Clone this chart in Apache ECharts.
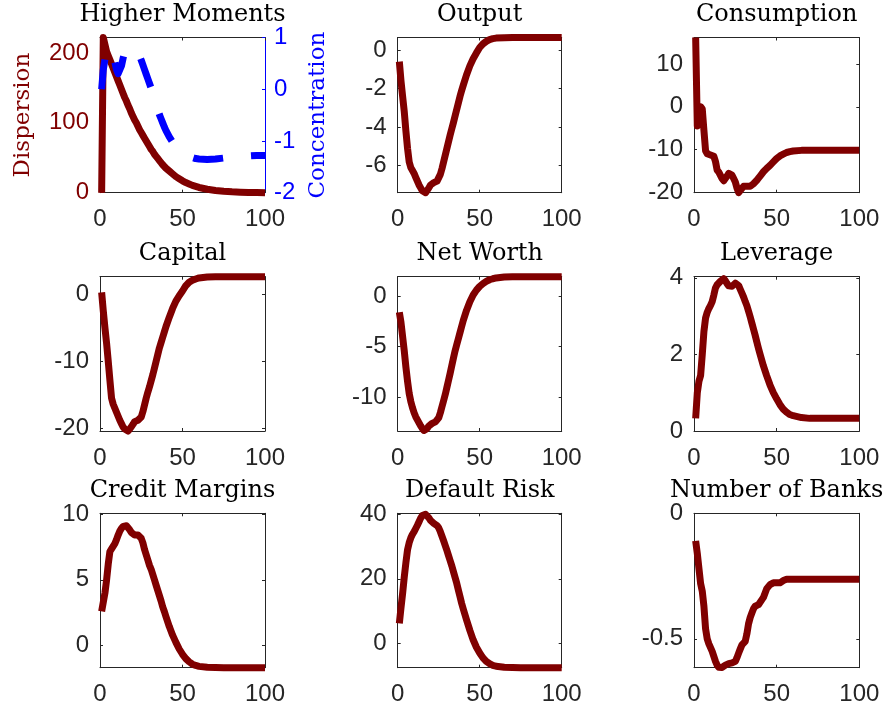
<!DOCTYPE html>
<html>
<head>
<meta charset="utf-8">
<script src="https://cdn.jsdelivr.net/npm/echarts@6/dist/echarts.min.js"></script>
<style>
  html, body { margin: 0; padding: 0; background: #ffffff; }
  #chart { width: 884px; height: 712px; }
</style>
</head>
<body>
<div id="chart"></div>
<script>
// Impulse responses, quarters after the shock
const periods = [1,2,3,4,5,6,7,8,9,10,11,12,13,14,15,16,17,18,19,20,
  21,22,23,24,25,26,27,28,29,30,31,32,33,34,35,36,37,38,39,40,
  42,44,46,48,50,52,54,56,58,60,65,70,75,80,85,90,95,100];

const dispersion = [0,222,212,202,196,190,184,178,172,166,160,154,148,142,136,131,125,120,114,109,
  104,100,95,90,86,82,78,74,70,66,62,59,55,52,49,46,43,40,38,35,
  31,27,23,20,17,14.5,12.5,10.5,9,7.5,5,3.2,2,1.2,0.7,0.4,0.2,0.1];

const concentration = [0,0.38,0.58,0.7,0.77,0.8,0.78,0.68,0.52,0.38,0.3,0.32,0.45,0.6,0.72,0.78,0.8,0.8,0.8,0.79,
  0.77,0.74,0.7,0.64,0.56,0.47,0.38,0.29,0.2,0.11,0.02,-0.08,-0.18,-0.3,-0.4,-0.49,-0.57,-0.65,-0.73,-0.8,
  -0.92,-1.02,-1.1,-1.17,-1.22,-1.26,-1.29,-1.32,-1.34,-1.35,-1.36,-1.35,-1.33,-1.31,-1.3,-1.29,-1.28,-1.28];

const output = [-0.6,-1.6,-2.4,-3.2,-4.2,-5.1,-5.8,-6.1,-6.25,-6.4,-6.6,-6.8,-7.0,-7.15,-7.3,-7.38,-7.4,-7.3,-7.15,-7.0,
  -6.92,-6.88,-6.85,-6.8,-6.7,-6.45,-6.15,-5.8,-5.45,-5.1,-4.75,-4.4,-4.08,-3.76,-3.42,-3.08,-2.74,-2.4,-2.1,-1.82,
  -1.28,-0.82,-0.45,-0.15,0.13,0.32,0.45,0.54,0.59,0.62,0.64,0.65,0.65,0.65,0.65,0.65,0.65,0.65];

const consumption = [16.2,-4.5,-3.5,0,-0.5,-5.5,-10.3,-11,-11.4,-11.3,-11.1,-11.6,-12.8,-14.8,-15.3,-15.7,-16.8,-17.3,-16.9,-16.2,
  -15.6,-15.5,-16,-16.8,-17.6,-19,-20.1,-19.9,-19.1,-18.6,-18.4,-18.6,-18.75,-18.6,-18.4,-18.0,-17.6,-17.2,-16.7,-16.2,
  -15.2,-14.4,-13.7,-12.9,-12.1,-11.5,-11.1,-10.7,-10.5,-10.35,-10.2,-10.2,-10.2,-10.2,-10.2,-10.2,-10.2,-10.2];

const capital = [0.3,-2.5,-5,-7.3,-10,-12.8,-15.5,-16.4,-17,-17.6,-18.2,-18.8,-19.3,-19.8,-20.1,-20.3,-20.4,-20.1,-19.75,-19.4,
  -19.0,-18.9,-18.8,-18.75,-18.3,-17.5,-16.5,-15.5,-14.6,-13.8,-12.9,-12,-11,-10,-9,-8,-7.2,-6.4,-5.6,-4.8,
  -3.4,-2.1,-1.0,-0.2,0.5,1.3,1.8,2.1,2.3,2.45,2.58,2.62,2.64,2.64,2.64,2.64,2.64,2.64];

const netWorth = [-1.6,-2.6,-4.0,-5.4,-7.0,-8.4,-9.6,-10.4,-11.0,-11.5,-11.9,-12.2,-12.5,-12.8,-13.05,-13.25,-13.3,-13.05,-12.8,-12.65,
  -12.55,-12.5,-12.4,-12.3,-12.0,-11.5,-10.9,-10.3,-9.7,-9.0,-8.3,-7.6,-6.85,-6.1,-5.4,-4.8,-4.2,-3.6,-3.0,-2.4,
  -1.4,-0.56,0.1,0.58,0.95,1.22,1.44,1.6,1.7,1.78,1.86,1.89,1.9,1.9,1.9,1.9,1.9,1.9];

const leverage = [0.33,1.0,1.3,1.45,2.0,2.6,2.95,3.1,3.2,3.28,3.38,3.55,3.74,3.82,3.87,3.91,3.95,3.98,3.92,3.85,
  3.79,3.78,3.78,3.82,3.86,3.87,3.8,3.7,3.6,3.5,3.38,3.27,3.13,2.98,2.82,2.66,2.5,2.33,2.16,2.0,
  1.7,1.44,1.2,1.0,0.84,0.69,0.57,0.49,0.43,0.4,0.35,0.33,0.33,0.33,0.33,0.33,0.33,0.33];

const creditMargins = [2.6,3.3,4.0,5.0,6.2,7.15,7.35,7.5,7.75,8.05,8.4,8.7,8.9,9.06,9.1,9.1,9.0,8.8,8.6,8.45,
  8.4,8.4,8.4,8.3,8.15,7.8,7.3,6.9,6.5,6.1,5.8,5.4,5.0,4.6,4.2,3.8,3.4,2.95,2.6,2.2,
  1.45,0.8,0.25,-0.25,-0.65,-0.98,-1.22,-1.4,-1.5,-1.57,-1.64,-1.66,-1.67,-1.67,-1.67,-1.67,-1.67,-1.67];

const defaultRisk = [6.2,11,15.5,20.5,25,29,31.2,32.7,33.8,34.6,35.6,36.6,37.7,38.8,39.6,40,40,39.6,38.9,38.1,
  37.6,37.2,36.9,36.5,35.8,34.6,33.2,31.8,30.3,28.8,27.2,25.6,24,22.2,20.4,18.6,16.5,14.5,12.4,10.6,
  7.2,4.0,1.1,-1.2,-3.0,-4.5,-5.6,-6.3,-6.8,-7.1,-7.4,-7.5,-7.55,-7.55,-7.55,-7.55,-7.55,-7.55];

const numberOfBanks = [-0.11,-0.16,-0.22,-0.28,-0.31,-0.37,-0.46,-0.5,-0.52,-0.535,-0.55,-0.57,-0.59,-0.605,-0.613,-0.615,-0.614,-0.612,-0.605,-0.6,
  -0.599,-0.598,-0.596,-0.594,-0.59,-0.575,-0.557,-0.54,-0.524,-0.517,-0.51,-0.48,-0.44,-0.415,-0.397,-0.38,-0.37,-0.366,-0.364,-0.362,
  -0.335,-0.3,-0.284,-0.277,-0.277,-0.277,-0.268,-0.263,-0.263,-0.263,-0.263,-0.263,-0.263,-0.263,-0.263,-0.263,-0.263,-0.263];

const titles = ['Higher Moments', 'Output', 'Consumption', 'Capital', 'Net Worth',
  'Leverage', 'Credit Margins', 'Default Risk', 'Number of Banks'];
const panelSeries = [dispersion, output, consumption, capital, netWorth,
  leverage, creditMargins, defaultRisk, numberOfBanks];

const xTicks = [0, 50, 100];
const yTicks = [[0, 100, 200], [-6, -4, -2, 0], [-20, -10, 0, 10], [-20, -10, 0], [-10, -5, 0],
  [0, 2, 4], [0, 5, 10], [0, 20, 40], [-0.5, 0]];
const yLimits = [[0, 222], [-7.4, 0.65], [-20.1, 16.2], [-20.4, 2.64], [-13.3, 1.9],
  [0, 4.03], [-1.67, 10.05], [-7.55, 40.3], [-0.615, 0]];
const concentrationTicks = [-2, -1, 0, 1];
const concentrationLimits = [-2, 1];

// ---- layout & styling ----
const COL_LEFT = [100, 397.7, 694];
const COL_WIDTH = [165, 164, 165.3];
const ROW_TOP = [37.5, 276.7, 513.3];
const ROW_HEIGHT = [155.2, 154.3, 154.4];
const TITLE_TOP = [2.7, 241.5, 478.9];

const MAROON = '#800000';
const BLUE = '#0000ff';
const AXIS = '#262626';
const SANS = 'Liberation Sans';
const SERIF = 'DejaVu Serif';

const pairs = arr => periods.map((p, i) => [p, arr[i]]);

const grid = [], xAxis = [], yAxis = [], series = [], title = [];

function boxAxisLine(color) {
  return { show: true, onZero: false, lineStyle: { color: color, width: 1 } };
}
function tick(color, values) {
  const t = { show: true, inside: true, length: 3, lineStyle: { color: color, width: 1 } };
  if (values) t.customValues = values;
  return t;
}

for (let i = 0; i < 9; i++) {
  const r = Math.floor(i / 3), c = i % 3;
  grid.push({ left: COL_LEFT[c], top: ROW_TOP[r], width: COL_WIDTH[c], height: ROW_HEIGHT[r], containLabel: false });

  title.push({
    text: titles[i],
    left: COL_LEFT[c] + COL_WIDTH[c] / 2,
    top: TITLE_TOP[r],
    textAlign: 'center',
    padding: 0,
    textStyle: { fontFamily: SERIF, fontSize: 24, fontWeight: 'normal', color: '#000000' }
  });

  // bottom x axis with labels
  xAxis.push({
    type: 'value', gridIndex: i, position: 'bottom', min: 0, max: 100,
    axisLine: boxAxisLine(AXIS), axisTick: tick(AXIS, xTicks),
    axisLabel: { customValues: xTicks, margin: 15, color: AXIS, fontFamily: SANS, fontSize: 24 },
    splitLine: { show: false }
  });
  // top x axis: box edge with mirrored ticks
  xAxis.push({
    type: 'value', gridIndex: i, position: 'top', min: 0, max: 100,
    axisLine: boxAxisLine(AXIS), axisTick: tick(AXIS, xTicks),
    axisLabel: { show: false }, splitLine: { show: false }
  });

  const leftColor = i === 0 ? MAROON : AXIS;
  const leftY = {
    type: 'value', gridIndex: i, position: 'left', min: yLimits[i][0], max: yLimits[i][1],
    axisLine: boxAxisLine(leftColor), axisTick: tick(leftColor, yTicks[i]),
    axisLabel: { customValues: yTicks[i], margin: 11, color: leftColor, fontFamily: SANS, fontSize: 24 },
    splitLine: { show: false }
  };
  if (i === 0) {
    leftY.name = 'Dispersion';
    leftY.nameLocation = 'middle';
    leftY.nameRotate = 90;
    leftY.nameGap = 65;
    leftY.nameTextStyle = { fontFamily: SERIF, fontSize: 23, color: MAROON };
  }
  yAxis.push(leftY);
  const leftIndex = yAxis.length - 1;

  if (i === 0) {
    yAxis.push({
      type: 'value', gridIndex: i, position: 'right',
      min: concentrationLimits[0], max: concentrationLimits[1],
      axisLine: boxAxisLine(BLUE), axisTick: tick(BLUE, concentrationTicks),
      axisLabel: { customValues: concentrationTicks, margin: 9, color: BLUE, fontFamily: SANS, fontSize: 24 },
      splitLine: { show: false },
      name: 'Concentration', nameLocation: 'middle', nameRotate: 90, nameGap: 42,
      nameTextStyle: { fontFamily: SERIF, fontSize: 23, color: BLUE }
    });
  } else {
    yAxis.push({
      type: 'value', gridIndex: i, position: 'right', min: yLimits[i][0], max: yLimits[i][1],
      axisLine: boxAxisLine(AXIS), axisTick: tick(AXIS, yTicks[i]),
      axisLabel: { show: false }, splitLine: { show: false }
    });
  }
  const rightIndex = yAxis.length - 1;

  series.push({
    type: 'line', xAxisIndex: 2 * i, yAxisIndex: leftIndex,
    data: pairs(panelSeries[i]), showSymbol: false, symbol: 'none', clip: false, smooth: false,
    lineStyle: { color: MAROON, width: 7, cap: 'butt', join: 'round' },
    animation: false, z: 3
  });
  if (i === 0) {
    series.push({
      type: 'line', xAxisIndex: 0, yAxisIndex: rightIndex,
      data: pairs(concentration), showSymbol: false, symbol: 'none', clip: false, smooth: false,
      lineStyle: { color: BLUE, width: 7, type: [30, 28], cap: 'butt', join: 'round' },
      animation: false, z: 4
    });
  }
}

const chart = echarts.init(document.getElementById('chart'), null, { renderer: 'canvas' });
chart.setOption({
  animation: false,
  backgroundColor: '#ffffff',
  title: title,
  grid: grid,
  xAxis: xAxis,
  yAxis: yAxis,
  series: series
});
</script>
</body>
</html>
